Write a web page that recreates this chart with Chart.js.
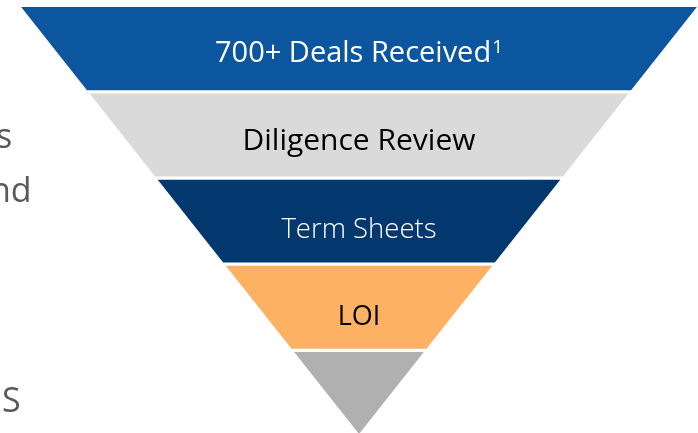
<!DOCTYPE html>
<html>
<head>
<meta charset="utf-8">
<script src="https://cdn.jsdelivr.net/npm/chart.js@4.4.1/dist/chart.umd.min.js"></script>
<style>
    html, body { margin: 0; padding: 0; background: #fff; overflow: hidden; }
    #wrap { position: relative; width: 698px; height: 433px; overflow: hidden; }
    canvas { position: absolute; left: 0; top: 0; }
</style>
</head>
<body>
<div id="wrap">
    <canvas id="embudo" width="702" height="445"></canvas>
</div>
<script>
// Etapas del embudo (de arriba hacia abajo)
const etapas = ['700+ Deals Received', 'Diligence Review', 'Term Sheets', 'LOI', ''];
const notas = ['1', '', '', '', ''];
// Ancho relativo de cada etapa en su borde superior (la última termina en punta)
const anchos = [100, 80, 60, 40, 20];
// Fragmentos de texto de la diapositiva, cortados a la izquierda
const textoLateral = ['s', 'nd', 'S'];

// Estilos
const colores = ['#0C56A0', '#DADADA', '#03386E', '#FCB163', '#B0B0B0'];
const coloresTexto = ['#FFFFFF', '#000000', '#FFFFFF', '#000000', '#000000'];
const fuentes = [
    '400 29px "Open Sans"',
    '400 30px "Open Sans"',
    '300 27.5px "Open Sans"',
    '400 27px "Open Sans"',
    '400 26px "Open Sans"'
];
const desplazamientoTexto = [5, 7, 9, 10, 0];
const posLateral = [[-4, 148], [-10, 202], [2, 412]];

// Construir un polígono (trapecio) por etapa a partir de los anchos
function poligono(i) {
    const arriba = anchos[i] / 2;
    const abajo = (anchos[i + 1] || 0) / 2;
    return [
        { x: -arriba, y: i },
        { x: arriba, y: i },
        { x: abajo, y: i + 1 },
        { x: -abajo, y: i + 1 },
        { x: -arriba, y: i }
    ];
}

// Plugin para las etiquetas de cada etapa
const etiquetas = {
    id: 'etiquetas',
    afterDatasetsDraw(chart) {
        const { ctx, scales } = chart;
        ctx.save();
        ctx.textBaseline = 'middle';
        etapas.forEach((texto, i) => {
            if (!texto) return;
            const cx = scales.x.getPixelForValue(0);
            const cy = scales.y.getPixelForValue(i + 0.5) + desplazamientoTexto[i];
            ctx.font = fuentes[i];
            ctx.fillStyle = coloresTexto[i];
            const w = ctx.measureText(texto).width;
            let wNota = 0;
            const supFont = '400 19px "Open Sans"';
            if (notas[i]) {
                ctx.font = supFont;
                wNota = ctx.measureText(notas[i]).width + 1;
                ctx.font = fuentes[i];
            }
            const x0 = cx - (w + wNota) / 2;
            ctx.textAlign = 'left';
            ctx.fillText(texto, x0, cy);
            if (notas[i]) {
                ctx.font = supFont;
                ctx.fillText(notas[i], x0 + w + 1, cy - 6);
            }
        });
        // Texto cortado a la izquierda
        ctx.font = '400 34px "Open Sans"';
        ctx.fillStyle = '#595959';
        ctx.textBaseline = 'alphabetic';
        textoLateral.forEach((t, i) => {
            ctx.fillText(t, posLateral[i][0], posLateral[i][1]);
        });
        ctx.restore();
    }
};

new Chart(document.getElementById('embudo'), {
    type: 'line',
    data: {
        datasets: etapas.map((etapa, i) => ({
            label: etapa,
            data: poligono(i),
            backgroundColor: colores[i],
            borderColor: '#FFFFFF',
            borderWidth: 3,
            borderJoinStyle: 'miter',
            pointRadius: 0,
            tension: 0,
            fill: 'shape',
            clip: false
        }))
    },
    options: {
        responsive: false,
        animation: false,
        layout: { padding: { left: 18, right: 2, top: 5.5, bottom: 8.5 } },
        plugins: { legend: { display: false }, tooltip: { enabled: false } },
        scales: {
            x: { type: 'linear', min: -50, max: 50, display: false },
            y: { type: 'linear', min: 0, max: 5, reverse: true, display: false }
        }
    },
    plugins: [etiquetas]
});
</script>
</body>
</html>
